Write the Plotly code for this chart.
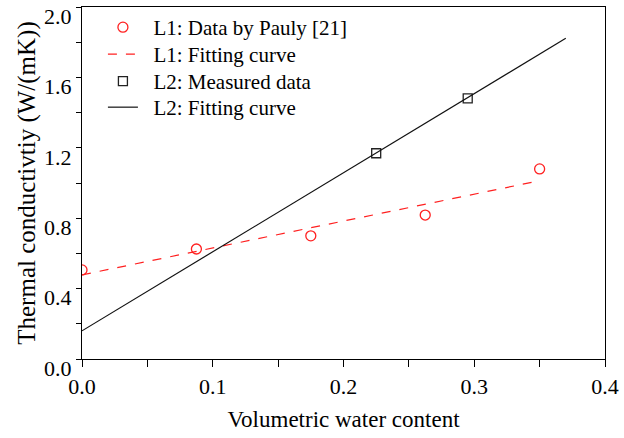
import plotly.graph_objects as go

# L1: data by Pauly [21]
l1_x = [0.0, 0.0875, 0.175, 0.2625, 0.35]
l1_y = [0.506, 0.625, 0.70, 0.818, 1.08]
# L1 fitting curve (endpoints)
l1_fit_x = [0.0, 0.35]
l1_fit_y = [0.478, 1.013]
# L2: measured data
l2_x = [0.225, 0.295]
l2_y = [1.169, 1.481]
# L2 fitting curve
l2_fit_x = [0.0, 0.37]
l2_fit_y = [0.16, 1.822]

x_ticks = [0.0, 0.1, 0.2, 0.3, 0.4]
x_tick_labels = ["0.0", "0.1", "0.2", "0.3", "0.4"]
y_ticks = [0.0, 0.4, 0.8, 1.2, 1.6, 2.0]
y_tick_labels = ["0.0", "0.4", "0.8", "1.2", "1.6", "2.0"]

series_names = ["L1: Data by Pauly [21]", "L1: Fitting curve",
                "L2: Measured data", "L2: Fitting curve"]

FONT = "Liberation Serif"
PAD = "\u00a0\u00a0"

fig = go.Figure()
fig.add_trace(go.Scatter(
    x=l1_x, y=l1_y, mode="markers", name=PAD + series_names[0], legend="legend",
    marker=dict(symbol="circle-open", size=10, color="#ff2020", line=dict(width=1.3)),
))
fig.add_trace(go.Scatter(
    x=l1_fit_x, y=l1_fit_y, mode="lines", name=PAD + series_names[1], legend="legend2",
    line=dict(color="#ff2020", width=1.2, dash="dash"),
))
fig.add_trace(go.Scatter(
    x=l2_x, y=l2_y, mode="markers", name=PAD + series_names[2], legend="legend3",
    marker=dict(symbol="square-open", size=9, color="#222222", line=dict(width=1.3)),
))
fig.add_trace(go.Scatter(
    x=l2_fit_x, y=l2_fit_y, mode="lines", name=PAD + series_names[3], legend="legend4",
    line=dict(color="#111111", width=1.2),
))

axis_common = dict(
    showgrid=False, zeroline=False, showline=True, linecolor="black", linewidth=1.3,
    mirror=True, ticks="outside", tickwidth=1.2, tickcolor="black",
    tickfont=dict(family=FONT, size=22, color="black"),
    ticklabeloverflow="allow", automargin=False,
)

fig.update_xaxes(
    range=[0, 0.4], tickvals=x_ticks, ticktext=x_tick_labels, ticklen=7,
    minor=dict(dtick=0.05, ticks="outside", ticklen=7, tickwidth=1.2, tickcolor="black"),
    title=dict(text="Volumetric water content", font=dict(family=FONT, size=23, color="black"), standoff=13),
    **axis_common,
)
fig.update_yaxes(
    range=[0, 2.0], tickvals=y_ticks, ticktext=y_tick_labels, ticklen=5,
    minor=dict(dtick=0.2, ticks="outside", ticklen=5, tickwidth=1.2, tickcolor="black"),
    ticklabelshift=9,
    title=dict(text="Thermal conductivtiy (W/(mK))", font=dict(family=FONT, size=25, color="black"), standoff=1),
    **axis_common,
)

legend_style = dict(
    x=0.04, xanchor="left", yanchor="top",
    bgcolor="rgba(0,0,0,0)", borderwidth=0,
    font=dict(family=FONT, size=21, color="black"),
)

fig.update_layout(
    width=624, height=438,
    margin=dict(l=82, r=19, t=7, b=79),
    paper_bgcolor="white", plot_bgcolor="white",
    font=dict(family=FONT),
    showlegend=True,
    legend=dict(y=1.0, **legend_style),
    legend2=dict(y=0.9233, **legend_style),
    legend3=dict(y=0.8466, **legend_style),
    legend4=dict(y=0.7727, **legend_style),
)

fig.write_html("out.html")
